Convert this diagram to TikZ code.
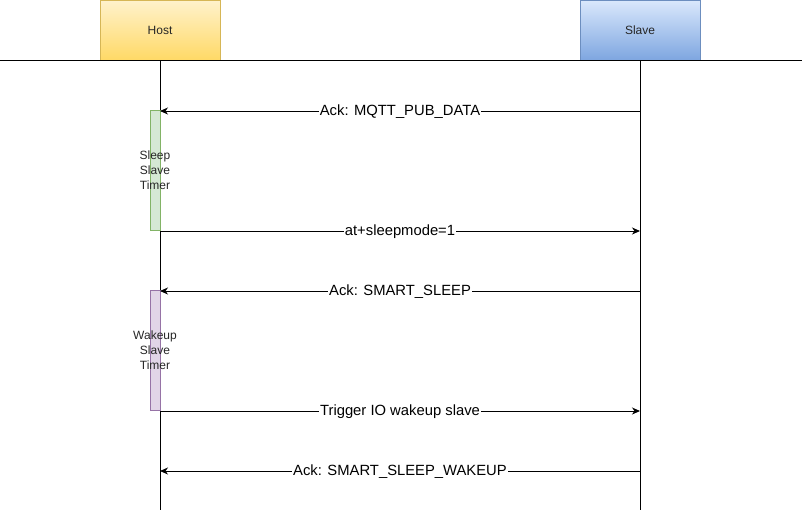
\documentclass[tikz,border=0pt]{standalone}
\usepackage{fontspec}
\setmainfont{Liberation Sans}
\usetikzlibrary{positioning,arrows.meta}
\tikzstyle{diagram} = [x = 1pt, y = -1pt]
\definecolor{hostTop}{HTML}{FFF2CC}
\definecolor{hostBottom}{HTML}{FFD966}
\definecolor{hostLine}{HTML}{D6B656}
\definecolor{slaveTop}{HTML}{DAE8FC}
\definecolor{slaveBottom}{HTML}{7EA6E0}
\definecolor{slaveLine}{HTML}{6C8EBF}
\definecolor{sleepFill}{HTML}{D5E8D4}
\definecolor{sleepLine}{HTML}{82B366}
\definecolor{wakeFill}{HTML}{E1D5E7}
\definecolor{wakeLine}{HTML}{9673A6}
\tikzstyle{headBox} = [minimum width = 120pt, minimum height = 60pt, inner sep = 0pt, line width = .8pt, font = \fontsize{12}{14}\selectfont, text = black!85]
\tikzstyle{hostStyle} = [headBox, draw = hostLine, top color = hostTop, bottom color = hostBottom]
\tikzstyle{slaveStyle} = [headBox, draw = slaveLine, top color = slaveTop, bottom color = slaveBottom]
\tikzstyle{timerBox} = [minimum width = 10pt, minimum height = 120pt, inner sep = 0pt, line width = .8pt]
\tikzstyle{timerText} = [align = center, font = \fontsize{12}{15}\selectfont, text = black!85]
\tikzstyle{lifeLine} = [color = black, line width = 1pt]
\tikzstyle{msgLine} = [color = black, line width = 1pt, -{Stealth[length = 8pt, width = 7pt, inset = 2.5pt]}]
\tikzstyle{msgText} = [fill = white, inner sep = 1pt, yshift = -1pt, font = \fontsize{14.8}{16}\selectfont, midway]
\newcommand{\slaveToHost}[3]{
  \coordinate (#1Host) at (160, #2);
  \coordinate (#1Slave) at (640, #2);
  \draw [msgLine] (#1Slave) -- (#1Host) node [msgText] {#3};
}
\newcommand{\hostToSlave}[3]{
  \coordinate (#1Host) at (160, #2);
  \coordinate (#1Slave) at (640, #2);
  \draw [msgLine] (#1Host) -- (#1Slave) node [msgText] {#3};
}
\begin{document}
\begin{tikzpicture}[diagram]
  \useasboundingbox (0, 0) rectangle (802, 512);
  \node [hostStyle] (host) at (160, 30) {Host};
  \node [slaveStyle] (slave) at (640, 30) {Slave};
  \coordinate (topLeft) at (0, 60);
  \coordinate (topRight) at (802, 60);
  \draw [lifeLine] (topLeft) -- (topRight);
  \coordinate (hostEnd) at (160, 510);
  \coordinate (slaveEnd) at (640, 510);
  \draw [lifeLine] (host.south) -- (hostEnd);
  \draw [lifeLine] (slave.south) -- (slaveEnd);

  \node [timerBox, draw = sleepLine, fill = sleepFill] (sleepTimer) at (155, 170) {};
  \node [timerBox, draw = wakeLine, fill = wakeFill] (wakeTimer) at (155, 350) {};
  \node [timerText] (sleepLabel) at (sleepTimer) {Sleep\\Slave\\Timer};
  \node [timerText] (wakeLabel) at (wakeTimer) {Wakeup\\Slave\\Timer};

  \slaveToHost{pubAck}{111}{Ack: MQTT\_PUB\_DATA}
  \hostToSlave{sleepCmd}{231}{at+sleepmode=1}
  \slaveToHost{sleepAck}{291}{Ack: SMART\_SLEEP}
  \hostToSlave{wakeCmd}{411}{Trigger IO wakeup slave}
  \slaveToHost{wakeAck}{471}{Ack: SMART\_SLEEP\_WAKEUP}
\end{tikzpicture}
\end{document}
